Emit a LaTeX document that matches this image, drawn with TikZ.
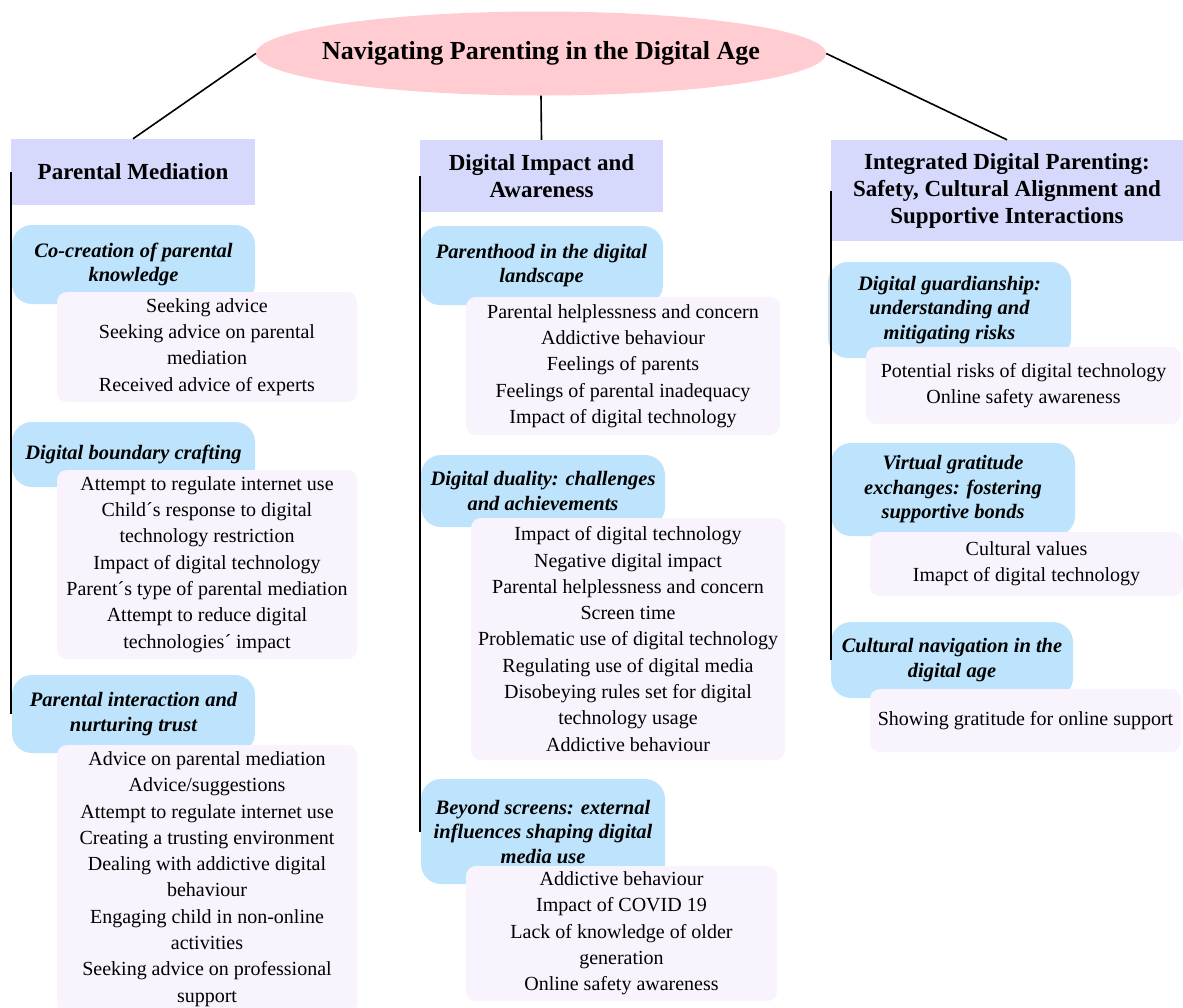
\documentclass[tikz,border=0pt]{standalone}
\usepackage{fontspec}
\setmainfont{Liberation Serif}
\usetikzlibrary{shapes.geometric}
\definecolor{titlepink}{RGB}{255,204,210}
\definecolor{headcol}{RGB}{214,216,252}
\definecolor{subcol}{RGB}{189,228,252}
\definecolor{contcol}{RGB}{248,243,252}
\begin{document}
\begin{tikzpicture}[x=1pt,y=-1pt,
  titleell/.style={ellipse, fill=titlepink, inner sep=0pt, minimum width=570pt, minimum height=84pt},
  titlefont/.style={font=\fontsize{26}{30}\selectfont\bfseries},
  headbox/.style={rectangle, fill=headcol, inner sep=0pt, align=center, font=\fontsize{23}{27}\selectfont\bfseries},
  subbox/.style={rectangle, rounded corners=20pt, fill=subcol, inner sep=0pt, align=center, font=\fontsize{20.5}{24.5}\selectfont\bfseries\itshape},
  contbox/.style={rectangle, rounded corners=10pt, fill=contcol, inner sep=0pt, align=center, font=\fontsize{20}{26.3}\selectfont},
  conn/.style={draw=black, line width=1.6pt}]
\clip (0,0) rectangle (1183,1007);
\fill[white] (0,0) rectangle (1183,1007);

% title
\node[titleell, label={[titlefont]center:Navigating Parenting in the Digital Age}] (title) at (541,53.5) {};

% headers
\node[headbox, minimum width=244, minimum height=66] (h1) at (133,172) {Parental Mediation};
\node[headbox, minimum width=243, minimum height=72] (h2) at (541.5,176) {Digital Impact and\\Awareness};
\node[headbox, minimum width=352, minimum height=101] (h3) at (1007,190.5) {Integrated Digital Parenting:\\Safety, Cultural Alignment and\\Supportive Interactions};

% left column
\node[subbox, minimum width=243, minimum height=79] (s11) at (133.5,264.5) {Co-creation of parental\\knowledge};
\node[contbox, minimum width=300, minimum height=110] (c11) at (207,347) {Seeking advice\\Seeking advice on parental\\mediation\\Received advice of experts};
\node[subbox, minimum width=243, minimum height=65] (s12) at (133.5,454.5) {Digital boundary crafting};
\node[contbox, minimum width=300, minimum height=189] (c12) at (207,564.5) {Attempt to regulate internet use\\Child´s response to digital\\technology restriction\\Impact of digital technology\\Parent´s type of parental mediation\\Attempt to reduce digital\\technologies´ impact};
\node[subbox, minimum width=243, minimum height=78] (s13) at (133.5,714) {Parental interaction and\\nurturing trust};
\node[contbox, minimum width=300, minimum height=268] (c13) at (207,879) {Advice on parental mediation\\Advice/suggestions\\Attempt to regulate internet use\\Creating a trusting environment\\Dealing with addictive digital\\behaviour\\Engaging child in non-online\\activities\\Seeking advice on professional\\support};

% middle column
\node[subbox, minimum width=243, minimum height=79] (s21) at (541.5,265.5) {Parenthood in the digital\\landscape};
\node[contbox, minimum width=314, minimum height=138] (c21) at (623,366) {Parental helplessness and concern\\Addictive behaviour\\Feelings of parents\\Feelings of parental inadequacy\\Impact of digital technology};
\node[subbox, minimum width=244, minimum height=72] (s22) at (543,491) {Digital duality: challenges\\and achievements};
\node[contbox, minimum width=314, minimum height=242] (c22) at (628,639) {Impact of digital technology\\Negative digital impact\\Parental helplessness and concern\\Screen time\\Problematic use of digital technology\\Regulating use of digital media\\Disobeying rules set for digital\\technology usage\\Addictive behaviour};
\node[subbox, minimum width=244, minimum height=105] (s23) at (543,831.5) {Beyond screens: external\\influences shaping digital\\media use};
\node[contbox, minimum width=311, minimum height=135] (c23) at (621.5,933.5) {Addictive behaviour\\Impact of COVID 19\\Lack of knowledge of older\\generation\\Online safety awareness};

% right column
\node[subbox, minimum width=243, minimum height=96] (s31) at (949.5,310) {Digital guardianship:\\understanding and\\mitigating risks};
\node[contbox, minimum width=315, minimum height=77] (c31) at (1023.5,385.5) {Potential risks of digital technology\\Online safety awareness};
\node[subbox, minimum width=244, minimum height=93] (s32) at (953,489.5) {Virtual gratitude\\exchanges: fostering\\supportive bonds};
\node[contbox, minimum width=313, minimum height=64] (c32) at (1026.5,564) {Cultural values\\Imapct of digital technology};
\node[subbox, minimum width=242, minimum height=76] (s33) at (952,660) {Cultural navigation in the\\digital age};
\node[contbox, minimum width=311, minimum height=63] (c33) at (1025.5,720.5) {Showing gratitude for online support};

% connectors
\draw[conn] (title.west) -- (h1.north);
\draw[conn] (title.south) -- (h2.north);
\draw[conn] (title.east) -- (h3.north);
\draw[conn] (h1.west) -- (h1.west |- s13.center);
\draw[conn] (h2.west) -- (h2.west |- s23.center);
\draw[conn] (h3.west) -- (h3.west |- s33.center);
\end{tikzpicture}
\end{document}
